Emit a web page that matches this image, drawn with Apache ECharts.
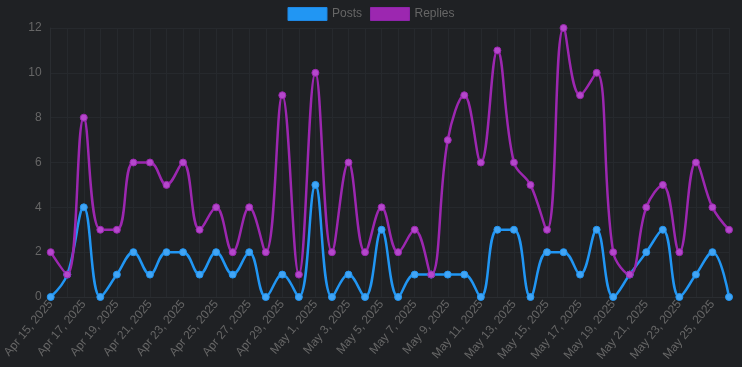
<!DOCTYPE html>
<html>
<head>
<meta charset="utf-8">
<script src="https://cdn.jsdelivr.net/npm/echarts@6/dist/echarts.min.js"></script>
<style>
html,body{margin:0;padding:0;background:#1f2124;}
#chart{width:742px;height:367px;}
</style>
</head>
<body>
<div id="chart"></div>
<script>
const categories = ["Apr 15, 2025","Apr 16, 2025","Apr 17, 2025","Apr 18, 2025","Apr 19, 2025","Apr 20, 2025","Apr 21, 2025","Apr 22, 2025","Apr 23, 2025","Apr 24, 2025","Apr 25, 2025","Apr 26, 2025","Apr 27, 2025","Apr 28, 2025","Apr 29, 2025","Apr 30, 2025","May 1, 2025","May 2, 2025","May 3, 2025","May 4, 2025","May 5, 2025","May 6, 2025","May 7, 2025","May 8, 2025","May 9, 2025","May 10, 2025","May 11, 2025","May 12, 2025","May 13, 2025","May 14, 2025","May 15, 2025","May 16, 2025","May 17, 2025","May 18, 2025","May 19, 2025","May 20, 2025","May 21, 2025","May 22, 2025","May 23, 2025","May 24, 2025","May 25, 2025","May 26, 2025"];
const posts = [0,1,4,0,1,2,1,2,2,1,2,1,2,0,1,0,5,0,1,0,3,0,1,1,1,1,0,3,3,0,2,2,1,3,0,1,2,3,0,1,2,0];
const replies = [2,1,8,3,3,6,6,5,6,3,4,2,4,2,9,1,10,2,6,2,4,2,3,1,7,9,6,11,6,5,3,12,9,10,2,1,4,5,2,6,4,3];
const yTicks = [0,2,4,6,8,10,12];

const chart = echarts.init(document.getElementById('chart'));
const font = 'Helvetica, Arial, "Liberation Sans", sans-serif';
chart.setOption({
  backgroundColor: '#1f2124',
  animation: false,
  legend: {
    top: 2,
    left: 'center',
    itemWidth: 39,
    itemHeight: 13,
    itemGap: 8,
    icon: 'rect',
    textStyle: {color: '#666', fontSize: 12, fontFamily: font},
    data: [
      {name: 'Posts', itemStyle: {color: '#2196f3', borderColor: '#1e88e5', borderWidth: 1}},
      {name: 'Replies', itemStyle: {color: '#9c27b0', borderColor: '#8e24aa', borderWidth: 1}}
    ]
  },
  grid: {left: 49, right: 13, top: 28, bottom: 70, containLabel: false},
  xAxis: {
    type: 'category',
    data: categories,
    boundaryGap: false,
    axisLine: {show: true, lineStyle: {color: '#2a2d31'}},
    axisTick: {show: false},
    axisLabel: {rotate: 50, interval: 1, color: '#666', fontSize: 12, fontFamily: font, margin: 5},
    splitLine: {show: true, interval: 0, lineStyle: {color: '#26292d', width: 1}}
  },
  yAxis: {
    type: 'value',
    min: yTicks[0],
    max: yTicks[yTicks.length - 1],
    interval: 2,
    axisLine: {show: true, lineStyle: {color: '#2a2d31'}},
    axisTick: {show: false},
    axisLabel: {color: '#666', fontSize: 12, fontFamily: font, margin: 9},
    splitLine: {show: true, lineStyle: {color: '#26292d', width: 1}}
  },
  series: [
    {
      name: 'Posts',
      type: 'line',
      data: posts,
      smooth: 0.4,
      symbol: 'circle',
      symbolSize: 7,
      lineStyle: {color: '#2196f3', width: 2.5},
      itemStyle: {color: '#42a5f5', borderColor: '#2196f3', borderWidth: 1}
    },
    {
      name: 'Replies',
      type: 'line',
      data: replies,
      smooth: 0.4,
      symbol: 'circle',
      symbolSize: 7,
      lineStyle: {color: '#9c27b0', width: 2.5},
      itemStyle: {color: '#b548cc', borderColor: '#9c27b0', borderWidth: 1}
    }
  ]
});
</script>
</body>
</html>
